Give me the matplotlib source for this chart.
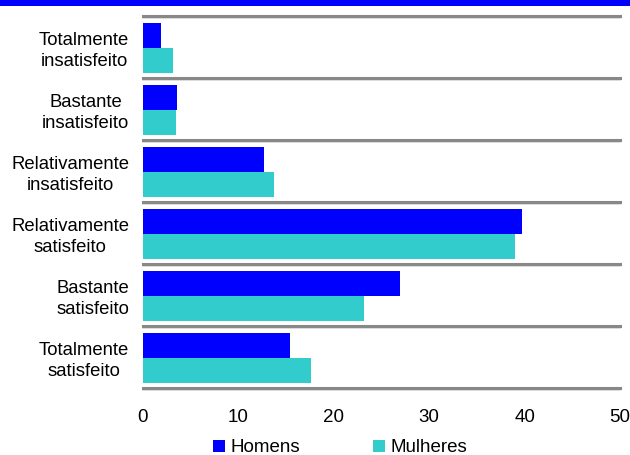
import matplotlib
matplotlib.use("Agg")
import matplotlib.pyplot as plt
from matplotlib.patches import Rectangle

plt.rcParams['font.family'] = ['Liberation Sans', 'DejaVu Sans']

categories = [
    "Totalmente\ninsatisfeito",
    "Bastante\ninsatisfeito",
    "Relativamente\ninsatisfeito",
    "Relativamente\nsatisfeito",
    "Bastante\nsatisfeito",
    "Totalmente\nsatisfeito",
]
homens = [1.9, 3.6, 12.7, 39.7, 26.9, 15.4]
mulheres = [3.1, 3.5, 13.7, 39.0, 23.2, 17.6]
series_names = ["Homens", "Mulheres"]
x_ticks = [0, 10, 20, 30, 40, 50]

c_h = "#0000FF"
c_m = "#33CCCC"

W, H = 630, 455
fig = plt.figure(figsize=(W / 100, H / 100), dpi=100)
fig.patch.set_facecolor("white")

# header band
fig.patches.append(Rectangle((0, 1 - 6 / H), 1, 6 / H, transform=fig.transFigure,
                             facecolor="#0000FF", edgecolor="none", zorder=0))

ax = fig.add_axes([143 / W, 1 - 388 / H, (620 - 143) / W, (388 - 16) / H])
n = len(categories)
bh = 0.403
pos = list(range(n))
ax.barh([p - 0.185 for p in pos], homens, height=bh, color=c_h, label=series_names[0],
        zorder=3, linewidth=0)
ax.barh([p + 0.218 for p in pos], mulheres, height=bh, color=c_m, label=series_names[1],
        zorder=3, linewidth=0)

ax.set_ylim(n - 0.5, -0.5)
ax.set_xlim(0, 50)

# separators between categories
for b in range(n + 1):
    y = b - 0.5
    ax.axhline(y + 0.03, color="#d8d8d8", lw=1.2, zorder=1, clip_on=False)
    ax.axhline(y, color="#888888", lw=2.2, zorder=2, clip_on=False)

ax.set_yticks(pos)
ax.set_yticklabels(categories, multialignment="center", fontsize=13.3, linespacing=1.32)
ax.set_xticks(x_ticks)
ax.set_xticklabels([str(t) for t in x_ticks], fontsize=13.5)
ax.tick_params(axis="y", length=0, pad=10)
ax.tick_params(axis="x", length=0, pad=15)
for s in ax.spines.values():
    s.set_visible(False)

leg = fig.legend(handles=ax.patches[:1] + ax.patches[n:n + 1], labels=series_names,
                 loc="center", bbox_to_anchor=(0.54, 1 - 448 / H), ncol=2, frameon=False,
                 fontsize=13.5, handlelength=0.65, handleheight=0.65, handletextpad=0.27,
                 columnspacing=3.9, borderpad=0, borderaxespad=0)

fig.savefig("out.png", dpi=100)
